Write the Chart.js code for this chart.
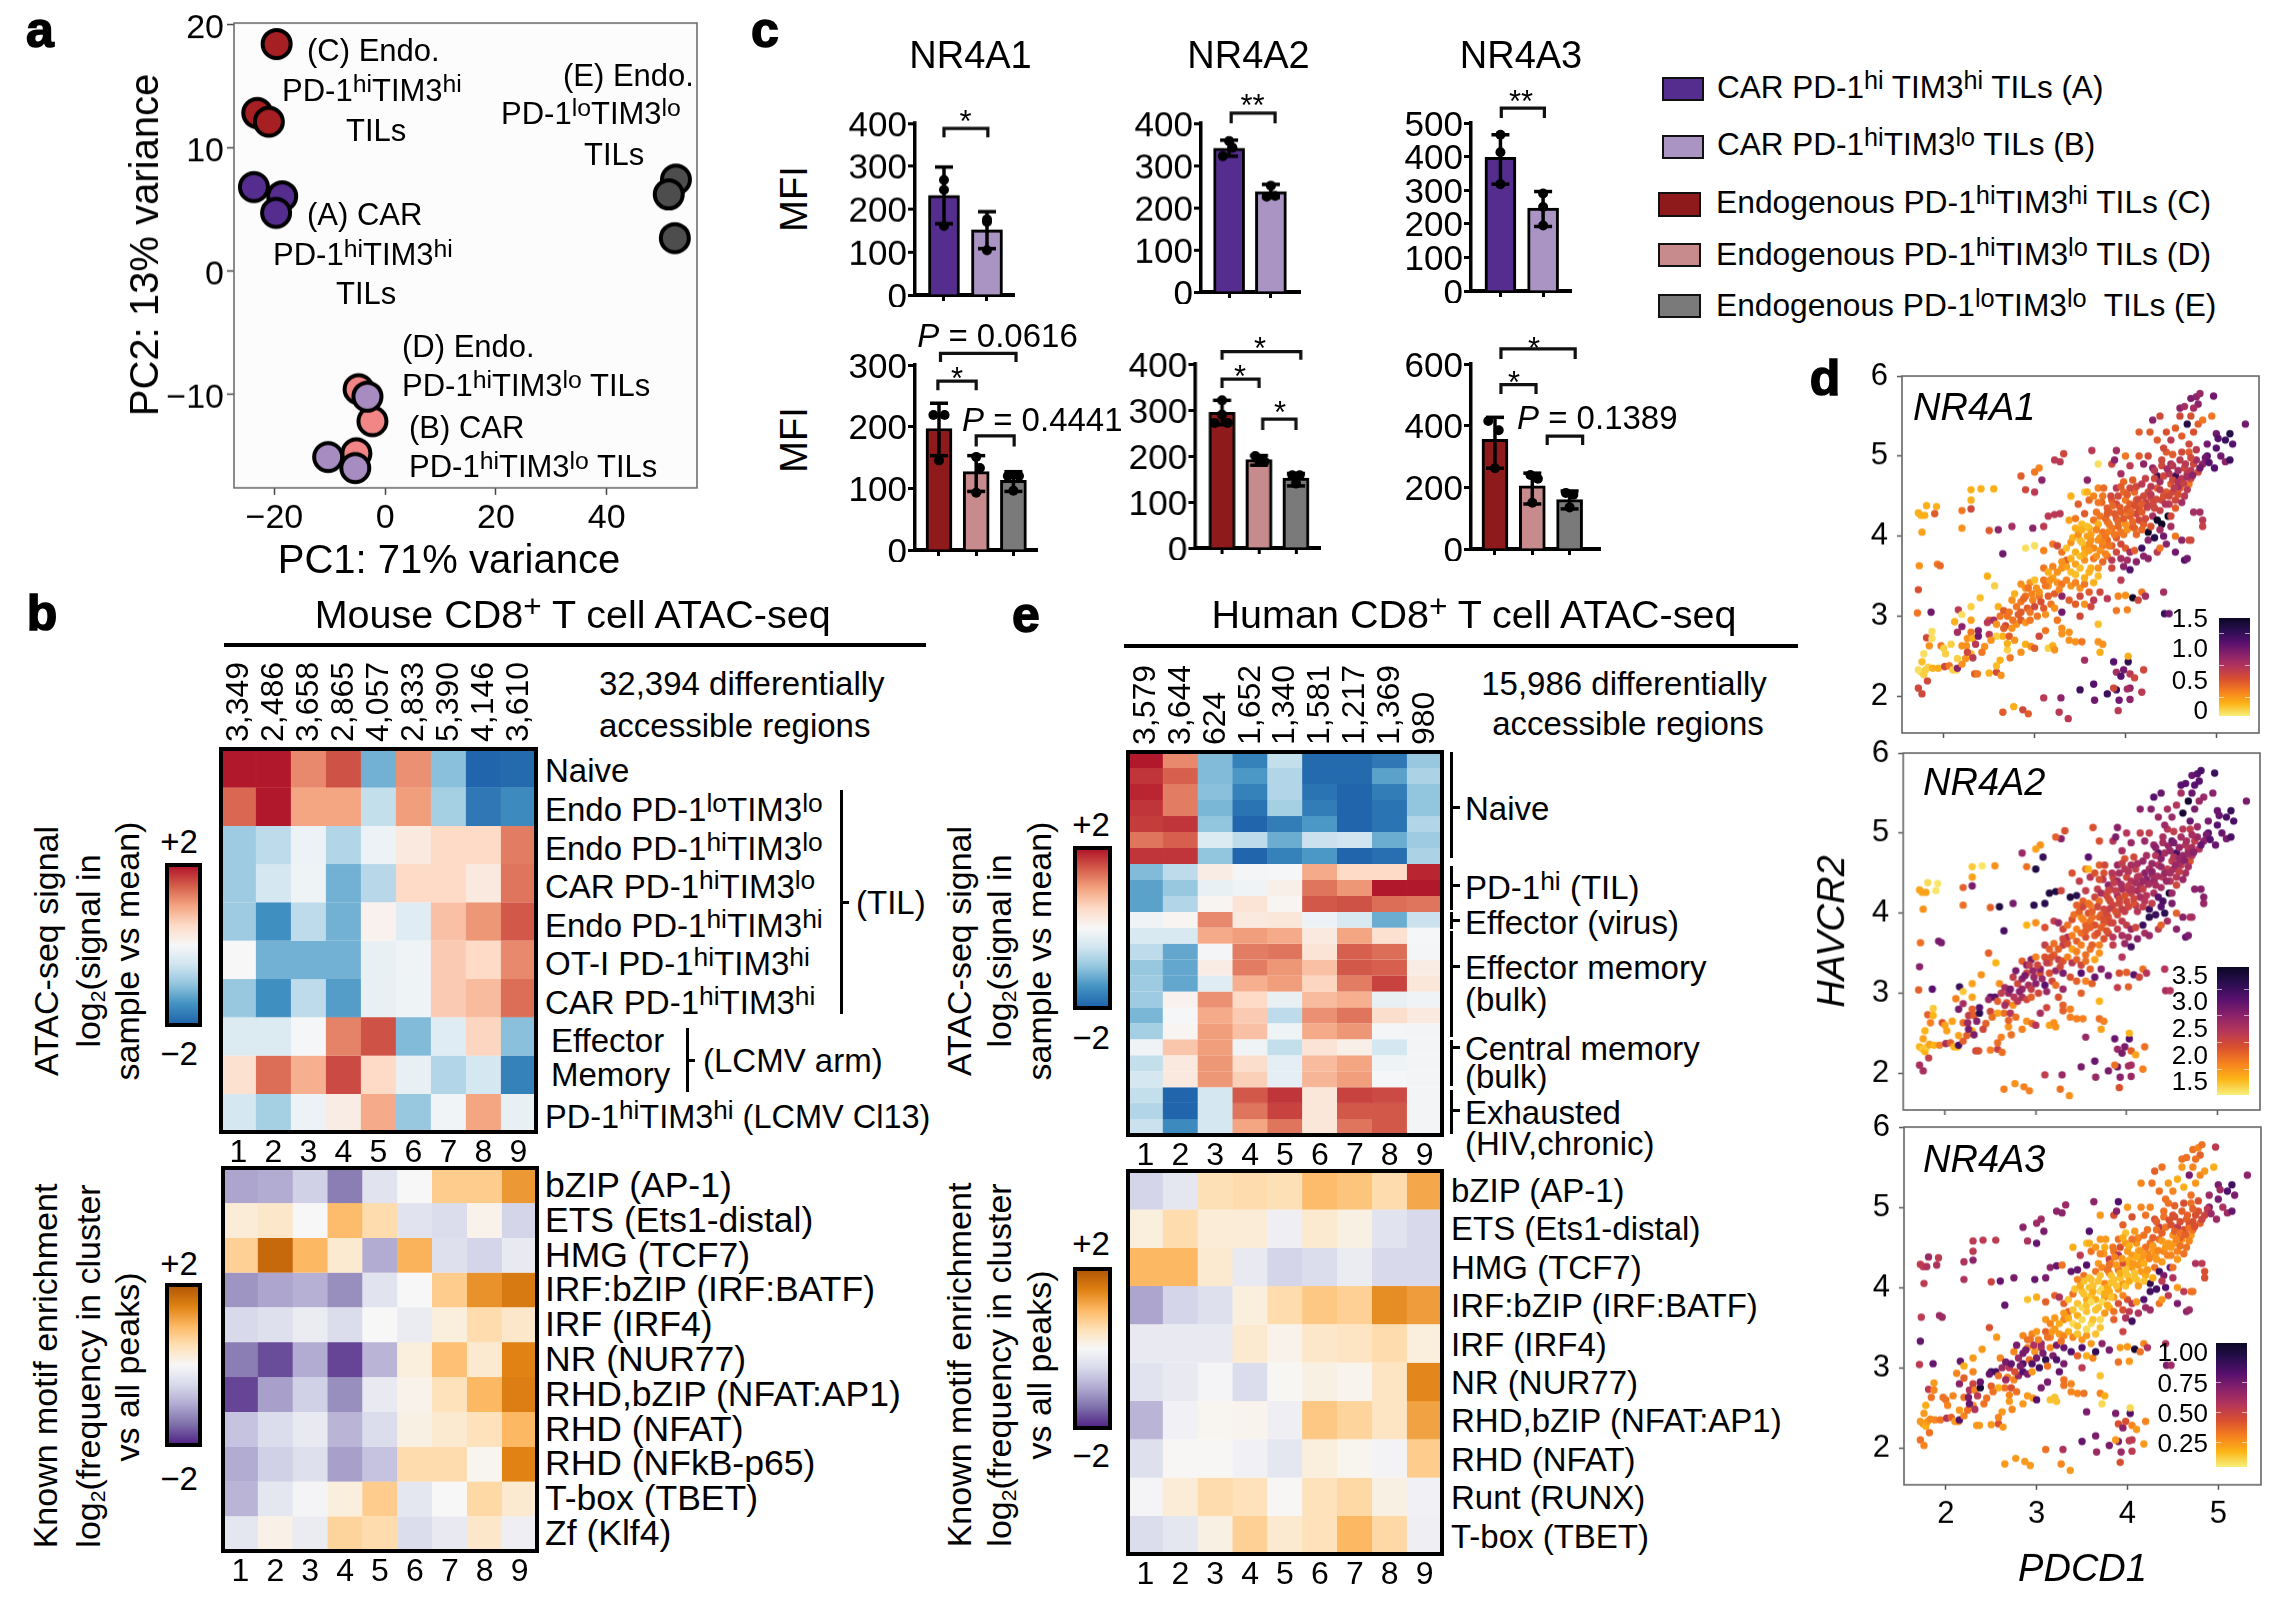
<!DOCTYPE html>
<html><head><meta charset="utf-8">
<script src="https://cdn.jsdelivr.net/npm/chart.js@4"></script>
<style>
html,body{margin:0;padding:0;background:#fff}
#page{position:relative;width:2285px;height:1597px;overflow:hidden;background:#fff;font-family:"Liberation Sans",Arial,sans-serif;color:#000}
canvas{position:absolute}
.t{position:absolute;white-space:nowrap;line-height:1}
.t sup{font-size:.8em;line-height:0;vertical-align:baseline;position:relative;top:-.34em}
.t sub{font-size:.62em;line-height:0;vertical-align:baseline;position:relative;top:.25em}
.b{position:absolute;box-sizing:border-box}
</style></head><body><div id="page"></div>
<script>
// ---------- panel a ----------
const pcaXTicks=[-20,0,20,40], pcaYTicks=[-10,0,10,20];
const pc1B=[-3.2,-10.3,-5.4], pc2B=[-10.2,-15.1,-16.0];
const pc1D=[-4.8,-2.3,-5.2], pc2D=[-9.6,-12.2,-14.8];
const pc1A=[-23.7,-18.6,-19.7], pc2A=[6.8,6.05,4.7];
const pc1C=[-19.6,-23.1,-21.0], pc2C=[18.4,12.8,12.1];
const pc1E=[52.5,51.2,52.3], pc2E=[7.4,6.2,2.66];
// ---------- panel c ----------
const a1TMean=[232,152], a1THi=[298,194], a1TLo=[166,108], a1TDotX=[0,0,0,1,1,1], a1TDotY=[268,161,245,176,104,170];
const a2TMean=[341,238], a2THi=[360,255], a2TLo=[322,224], a2TDotX=[0,-.15,.08,1,.9,1.1], a2TDotY=[358,322,342,252,226,228];
const a3TMean=[398,247], a3THi=[465,296], a3TLo=[318,192], a3TDotX=[0,0,0,1,1,1], a3TDotY=[465,413,318,290,250,195];
const a1BMean=[197,127,113], a1BHi=[238,153,127], a1BLo=[153,95,95], a1BDotX=[-.15,.15,0,1.1,1,1,1.85,2.15,2], a1BDotY=[219,219,145,133,93,151,120,120,96];
const a2BMean=[295,192,152], a2BHi=[321,201,162], a2BLo=[268,180,135], a2BDotX=[0,-.2,.15,0,.9,1,1.15,1.9,2.1,2], a2BDotY=[321,272,272,290,200,190,188,158,158,140];
const a3BMean=[356,205,160], a3BHi=[427,246,188], a3BLo=[262,146,130], a3BDotX=[-.18,.1,0,.95,1.15,1,1.9,2.1,2], a3BDotY=[415,385,262,240,228,150,182,176,135];
const yTicks400=[0,100,200,300,400], yTicks500=[0,100,200,300,400,500], yTicks300=[0,100,200,300], yTicks600=[0,200,400,600];
// ---------- panel b / e ----------
const colsB=[1,2,3,4,5,6,7,8,9];
const countsMouse=["3,349","2,486","3,658","2,865","4,057","2,833","5,390","4,146","3,610"];
const countsHuman=["3,579","3,644","624","1,652","1,340","1,581","1,217","1,369","980"];
const mouseAtac=[
[2,2,1.2,1.6,-1.2,1.15,-1.05,-2,-1.95],
[1.45,2,1.0,1.0,-.6,1.05,-.85,-1.8,-1.6],
[-.9,-.65,-.15,-.75,-.15,.25,.5,.5,1.3],
[-.9,-.45,-.12,-1.2,-.7,.5,.5,.25,1.35],
[-.9,-1.55,-.65,-1.2,.1,-.3,.75,1.1,1.55],
[0,-1.2,-1.2,-1.2,-.2,-.1,.65,.5,1.2],
[-.95,-1.55,-.65,-1.4,-.2,-.12,.65,.8,1.4],
[-.35,-.35,-.02,1.25,1.6,-1.1,-.3,.55,-1.05],
[.4,1.4,.9,1.65,.5,-.2,-.75,-.45,-1.7],
[-.45,-.85,-.15,.2,.95,-.95,-.08,1.0,-.2]];
const mouseMotif=[
[-1.05,-1,-.6,-1.4,-.35,0,.75,.75,1.3],
[.25,.35,0,.95,.55,-.35,-.45,.1,-.55],
[.7,1.8,1,.3,-1,1.05,-.4,-.55,-.25],
[-1.2,-1.05,-.95,-1.25,-.35,0,.75,1.35,1.6],
[-.5,-.4,-.2,-.45,0,-.2,.2,.55,.35],
[-1.4,-1.75,-1,-1.8,-.9,.2,.9,.3,1.5],
[-1.8,-1.1,-.6,-1.25,-.25,.1,.45,1,1.55],
[-.75,-.45,-.25,-.9,-.45,.15,.3,.45,1],
[-1,-.6,-.4,-1.1,-.75,.55,.55,.05,1.5],
[-.9,-.3,-.05,.2,.75,-.3,0,.6,.3],
[-.3,.12,-.2,.65,.55,-.45,-.25,.35,-.15]];
const humanAtac=[
[2,1.2,-1.1,-1.7,-.6,-1.95,-1.95,-1.8,-.95],
[1.8,1.5,-1.1,-1.45,-.75,-1.95,-1.95,-1.35,-.8],
[1.9,1.3,-1.05,-1.7,-.75,-1.85,-2,-1.75,-1],
[1.8,1.3,-1.15,-1.85,-.85,-1.75,-2,-1.85,-1],
[1.75,1.8,-1,-2,-1.75,-1.45,-2,-1.85,-.75],
[1.35,1.5,-.35,-.65,-1.25,-.55,-.5,-1.25,-.9],
[1.8,1.8,-1,-2,-1.7,-1.45,-2,-1.9,-.8],
[-1.1,-.65,.2,-.05,-.02,.95,.5,.5,1.9],
[-1.35,-.95,-.2,-.1,.15,1.35,1.1,2,2],
[-1.35,-.75,.05,.35,.05,1.55,1.6,1.4,1.35],
[-.1,.05,1.2,.25,.3,-.15,-.4,-1.25,-.55],
[-.4,-.4,.95,1.05,.95,.25,1,.4,-.02],
[-.65,-1.3,-.05,1.3,1.35,.35,1.5,1.4,-.05],
[-.95,-1.3,.2,1.3,1.1,.75,1.55,1.5,.2],
[-.9,-1.3,-.3,.9,1.05,.55,1.3,1.7,.3],
[-.9,.1,1.15,.5,-.2,.8,.9,-.2,-.1],
[-1.15,-.02,.95,.65,-.65,1.15,1.35,.45,.25],
[-.85,.05,1.05,.75,-.12,.95,1.1,-.05,-.07],
[-.1,.7,1.05,-.1,-.6,.35,.15,-.45,-.07],
[-.6,.25,1.1,.45,-.25,.8,1,-.12,-.07],
[-.45,.25,1.1,.6,-.25,.85,1.05,-.03,-.07],
[-.6,-2,-.45,1.55,1.8,.3,1.7,1.65,-.07],
[-.75,-2,-.45,1.35,1.7,.3,1.55,1.55,-.07],
[-.55,-1.6,-.45,1,1.35,.3,1.35,1.55,-.07]];
const humanMotif=[
[-.55,-.3,.5,.55,.5,.95,.85,.55,1.15],
[.2,.55,.25,.25,-.15,.3,.15,-.35,-.5],
[1,1,.3,-.25,-.55,-.45,-.2,-.5,-.5],
[-1.05,-.55,-.4,.2,.55,.8,.7,1.4,1.25],
[-.25,-.25,-.25,.3,.1,.35,.4,.55,.2],
[-.35,-.25,-.05,-.45,.03,.15,.08,.4,1.45],
[-.9,-.1,.05,.08,-.15,.8,.65,.4,1.2],
[-.4,.02,.02,-.1,-.3,.2,.07,-.07,.75],
[-.05,.25,.55,.45,.02,.45,.6,.15,-.1],
[-.45,-.3,.15,.7,.3,.45,1,.6,-.15]];
// ---------- panel d ----------
const pdcd1=[
1.72,1.75,1.78,1.80,1.83,1.88,1.94,2.01,1.76,1.72,
1.76,1.82,1.78,1.84,1.81,1.87,1.87,1.97,2.00,2.02,
2.06,2.10,2.14,2.15,2.20,2.15,2.24,2.08,2.12,2.15,
2.20,2.25,2.26,2.30,2.32,2.35,2.30,2.20,2.30,2.26,
2.32,2.34,2.37,2.16,2.20,2.30,2.40,2.38,2.38,1.71,
1.86,1.72,1.73,1.93,1.96,1.76,1.72,1.75,1.79,1.81,
1.92,1.90,2.20,2.20,2.30,2.30,2.30,2.41,2.55,2.48,
2.56,2.50,2.58,2.63,2.62,2.58,2.70,2.70,2.65,2.58,
2.50,2.50,2.48,2.55,2.58,2.60,2.68,2.75,2.70,2.72,
2.78,2.80,2.85,2.90,2.95,2.90,2.96,3.00,3.05,2.85,
2.73,3.15,3.20,3.22,3.25,3.30,3.30,3.38,3.38,3.45,
3.52,3.70,3.70,3.75,3.72,3.50,3.55,3.87,3.90,3.95,
3.98,4.03,4.03,4.05,4.10,4.20,4.18,4.05,3.90,3.87,
4.02,3.80,3.66,3.50,3.65,3.29,3.10,2.65,2.77,2.87,
2.93,3.27,3.37,3.92,3.93,4.05,2.75,2.78,2.80,2.85,
2.90,2.92,2.95,2.98,3.00,3.03,3.05,3.10,3.12,3.15,
3.18,3.22,3.30,3.30,3.38,3.45,3.50,3.55,3.62,3.65,
3.72,3.80,3.90,3.92,4.00,4.02,4.08,4.14,4.18,4.22,
4.42,4.43,4.48,2.85,2.90,2.95,3.00,3.05,3.10,3.15,
3.20,3.25,3.30,3.35,3.40,3.45,3.50,3.55,3.60,3.65,
3.70,3.85,3.95,3.10,3.15,3.20,3.30,3.35,3.40,3.45,
3.50,3.55,3.60,3.65,3.70,3.75,3.80,3.85,3.90,3.95,
4.00,4.05,4.10,2.65,2.90,3.00,3.10,3.20,3.25,3.30,
3.35,3.40,3.45,3.50,3.55,3.60,3.65,3.70,3.75,3.80,
3.85,3.90,3.95,4.20,4.25,4.35,4.38,4.45,4.55,4.62,
4.65,4.68,4.70,4.72,4.55,2.50,2.60,2.75,2.98,3.10,
3.15,3.22,3.28,3.38,3.45,3.52,3.55,3.60,3.65,3.70,
3.75,3.80,3.85,3.90,3.95,4.00,4.05,4.10,4.15,4.20,
4.25,4.30,4.35,4.40,4.47,4.50,4.30,4.75,4.82,4.85,
4.85,3.40,3.48,3.55,3.60,3.65,3.70,3.75,3.80,3.85,
3.90,3.95,4.00,4.05,4.10,4.15,4.20,4.25,4.30,4.35,
4.40,4.45,4.50,4.55,4.60,4.65,4.70,4.55,2.85,3.05,
3.08,3.00,3.00,2.90,3.28,3.22,3.32,3.58,3.58,3.63,
3.70,3.85,3.90,3.88,3.95,4.00,4.05,4.15,4.20,4.25,
4.30,4.35,4.40,4.45,4.50,4.55,4.60,4.65,4.70,4.75,
4.80,4.85,4.15,4.27,4.30,4.35,4.38,4.45,4.50,4.55,
4.60,4.62,4.70,4.75,4.80,4.85,4.95,5.00,4.90,5.00,
5.02,5.10,5.15,5.18,5.05,5.10,4.98,5.15,5.32,4.90,
4.60,4.65,4.72,4.78,4.82,4.80,4.75,4.97,4.72,4.68,
3.42,3.48,3.52,3.58,3.62,3.68,3.72,3.78,3.82,3.88,
3.92,3.98,4.02,4.08,4.12,4.18,3.68,3.72,3.78,3.82,
3.88,3.92,3.98,4.02,4.08,4.12,4.18,4.22,4.28,4.32,
4.38,4.42,4.48,4.52,4.58,4.62,4.68,4.72,4.12,4.18,
4.22,4.28,4.32,4.38,4.42,4.48,4.52,4.58,4.62,4.68,
4.72,4.78,4.82,4.88,4.92,4.72,4.78,4.62,4.52,4.42,
3.50,3.55,3.60,3.40,3.35,3.30,3.25,3.45,3.55,3.62,
3.72,3.78,3.82,3.62,3.68,3.75,3.52,3.58,3.45,3.82,
3.92,3.98,4.05,4.12,4.22,4.28,3.98,4.08,3.90,3.95,
2.85,2.88,2.93,2.97,3.02,3.07,3.12,3.17,3.22,3.27,
2.62,2.66,2.72,2.76,2.82,2.45,2.52,2.42,2.66,3.12,
3.98,4.02,4.05,4.12,4.18,4.25,4.32,4.38,4.42,4.50,
4.02,4.06,4.10,4.14,4.18,4.24,4.28,4.34,4.38,4.44,
4.48,4.54,4.58,4.64,4.68,4.74,4.32,4.40,4.46,4.52,
4.58,4.66,3.74,3.80,3.86,3.94,4.02,3.84,3.76,3.70];
const havcr2=[
2.33,2.30,2.27,2.33,2.36,2.35,2.35,2.37,2.43,2.10,
2.03,2.19,2.53,2.63,2.73,2.81,2.72,2.63,2.60,2.53,
2.38,2.33,2.33,2.35,2.40,2.47,2.47,2.65,2.93,2.80,
2.63,2.63,2.72,2.80,2.72,2.65,2.95,2.87,2.53,2.55,
2.48,2.28,2.28,3.08,3.02,3.12,3.23,2.75,2.82,3.04,
3.05,3.33,3.63,3.65,3.63,4.05,4.29,4.26,4.26,4.38,
4.37,4.28,4.32,4.10,4.34,4.45,4.58,4.59,4.59,3.50,
3.38,2.29,2.30,2.26,2.45,2.38,2.58,2.66,2.75,2.75,
2.77,2.95,2.92,2.95,2.90,3.12,2.88,2.85,3.00,2.75,
2.70,2.90,2.95,2.92,2.95,2.65,2.62,2.60,2.75,2.55,
2.48,2.60,2.63,2.58,2.95,2.85,2.78,2.80,2.70,2.68,
2.68,2.90,2.68,2.65,2.55,3.00,2.45,2.43,2.30,2.25,
2.33,2.43,2.50,2.28,2.23,2.33,2.05,2.10,2.08,2.10,
2.09,2.03,1.95,2.08,2.15,1.98,1.98,1.80,1.87,1.83,
1.78,1.80,1.72,1.82,1.95,1.96,3.20,3.28,3.12,3.18,
3.25,3.10,3.05,3.20,3.12,3.00,3.25,3.10,3.02,3.25,
3.15,3.10,3.25,3.05,3.20,3.15,3.25,3.15,3.12,3.20,
3.30,3.22,3.07,3.25,3.26,3.08,3.23,3.20,3.30,3.25,
3.30,3.03,3.03,3.40,3.35,3.42,3.45,3.30,3.45,3.38,
3.48,3.42,3.40,3.45,3.38,3.42,3.35,3.40,3.30,3.42,
3.50,3.60,3.45,3.60,3.55,3.62,3.60,3.70,3.55,3.65,
3.60,3.70,3.55,3.72,3.60,3.68,3.75,3.70,3.80,3.72,
3.85,3.80,3.82,3.78,3.85,3.88,3.82,3.90,3.88,3.80,
3.85,3.92,3.80,3.95,3.85,3.90,3.85,3.95,3.88,3.95,
3.88,3.98,3.90,3.75,3.72,3.80,3.85,3.90,4.00,3.95,
3.70,3.72,3.95,3.95,3.80,4.07,4.08,4.12,4.10,4.12,
4.25,4.27,4.28,4.20,4.22,4.15,4.28,4.10,4.20,4.15,
4.05,4.18,4.10,4.22,4.05,4.15,4.25,4.10,4.20,4.15,
4.05,4.25,4.20,4.15,4.25,4.25,4.40,4.30,4.30,4.20,
4.12,4.50,4.40,4.55,4.45,4.50,4.60,4.50,4.35,4.45,
4.40,4.30,4.45,4.40,4.55,4.35,4.50,4.55,4.40,4.60,
4.45,4.55,4.65,4.45,4.60,4.50,4.65,4.35,4.75,4.85,
4.70,4.80,4.55,4.58,4.93,4.95,5.03,4.70,4.55,5.07,
4.90,4.90,5.07,4.95,4.78,5.00,4.88,5.00,4.90,5.00,
4.85,4.75,4.95,5.05,4.90,4.75,4.95,4.85,5.05,4.90,
4.80,4.90,5.30,5.30,5.45,5.20,5.50,5.30,5.20,5.35,
5.50,5.25,5.15,5.30,5.40,5.45,5.50,5.28,5.15,5.10,
5.22,5.20,5.28,5.15,5.00,4.93,4.85,4.95,5.40,5.00,
5.60,5.62,5.72,5.74,5.78,5.65,5.60,5.75,5.50,5.40,
3.98,4.02,3.92,4.00,3.95,4.08,3.98,4.00,4.06,4.02,
4.12,4.02,4.08,4.12,4.02,4.08,4.30,4.25,4.22,4.30,
4.28,4.18,4.22,4.30,4.18,4.28,4.30,4.22,4.12,4.35,
4.32,4.50,4.40,4.55,4.52,4.42,4.58,4.72,4.62,4.65,
4.72,4.62,4.72,4.68,4.75,4.78,4.70,4.62,4.72,4.78,
4.82,4.95,4.85,4.98,4.92,4.98,5.08,5.05,5.02,5.10,
3.75,3.78,3.82,3.72,3.62,3.68,3.55,3.52,3.48,3.60,
3.82,3.78,3.88,4.02,3.75,3.92,4.08,4.12,4.10,4.15,
4.50,4.55,4.60,4.45,4.42,4.48,4.68,4.70,4.60,4.62,
3.05,3.22,3.35,3.28,3.35,3.18,3.38,3.45,3.28,3.33,
3.00,3.07,3.05,2.95,3.02,2.62,2.70,2.55,2.85,2.82,
3.62,3.70,3.58,3.68,3.85,3.95,3.98,4.08,4.00,4.12,
4.34,4.30,4.38,4.46,4.40,4.36,4.52,4.46,4.58,4.40,
4.50,4.60,4.68,4.66,4.74,4.76,4.82,4.88,4.84,4.88,
4.82,4.90,4.42,4.28,4.38,4.36,4.52,4.50,4.60,4.42];
const exprNR4A1=[
.05,.05,.1,.1,.1,.2,.2,.6,.15,.6,
.6,.6,.05,.3,.6,.05,.05,.4,.1,.1,
.4,.1,.1,.9,.3,.1,.3,.1,.2,.8,
.3,.3,.3,.4,.2,.7,.25,.9,.15,.6,
.7,.5,.4,.7,.05,.1,.15,1,.95,.4,
1,.55,.3,.4,.45,.25,.2,.2,.2,.2,
.2,.5,.4,.3,.6,.2,.2,.2,.2,.2,
.1,.2,.6,.3,.2,.15,.1,.2,.2,.1,
.7,.5,.7,.8,.3,.2,.6,.3,.4,.5,
.3,.3,.5,.3,.4,.2,.3,.5,.6,.3,
.4,.1,.2,.3,.4,.3,.3,.3,.3,.3,
.4,.15,.3,.3,.2,.6,.8,1.1,.8,1.1,
1,1.25,.2,.7,.6,.6,.7,.9,1.2,.6,
.8,1.2,1,1.2,1.1,.9,.7,.5,.2,.6,
.5,.7,.7,.7,1,.9,.3,.2,.4,.4,
.4,.5,.4,.35,.6,.4,.4,.5,.3,.5,
.4,.3,.9,1,.5,.5,.6,.3,.6,.7,
.6,.7,.4,.35,.3,.35,1.6,.6,.4,.8,
.8,1.2,1,.3,.3,.3,.15,.3,.4,.3,
.25,.3,.4,.35,.3,.35,.3,.4,.5,.2,
.15,.6,.7,.4,.2,.35,.3,.5,.15,.25,
.15,.3,.2,.4,.3,.45,.4,.7,.6,.8,
.5,.8,.5,1,.05,.05,.35,.4,.6,.4,
.15,.3,.2,.15,.25,.3,.35,.3,.4,.45,
.5,.5,.6,.9,.9,.7,.4,.9,.4,.9,
1.1,1,.55,.6,1,.5,.9,.8,.9,.7,
.7,.7,.7,.25,.4,.15,.5,.2,.4,.2,
.4,.4,.4,.5,.4,.3,.5,.45,.6,.5,
1.6,.8,1.6,1.6,1.6,.6,.7,.8,.8,.7,
.65,.2,.5,.1,.45,.35,.35,.4,.5,.5,
.6,.5,.4,.5,.45,.55,.6,.6,.6,.5,
.6,.5,.5,.6,.5,.7,.4,.5,.5,.35,
.9,.4,.7,.6,.7,.7,.6,.9,.2,.7,
.05,.6,.8,.9,.8,.4,.7,.5,.9,.6,
.9,1.2,.6,.5,.8,1.2,.7,.6,.5,.6,
.6,.9,.5,.5,.9,.5,.6,.55,.7,.5,
.6,.5,.6,.55,.5,.4,.4,1,1,1.1,
1.1,1.2,1.3,1.1,1,.9,1.1,1.2,1,1.1,
.9,.8,.95,.9,.85,.9,.8,1,.55,1.3,
.2,.3,.15,.25,.3,.35,.3,.4,.35,.4,
.45,.4,.3,.5,.45,.45,.4,.4,.45,.5,
.5,.45,.5,.4,.45,.6,.5,.6,.55,.6,
.65,.55,.7,.6,.55,.8,.7,.6,.6,.7,
.65,.7,.6,.8,.6,.7,.6,.8,.7,.7,
.7,.8,1,1,1.1,.6,.7,.6,.5,.6,
.15,.2,.25,.2,.25,.3,.3,.15,.2,.2,
.3,.35,.4,.25,.3,.35,.2,.15,.2,.4,
.6,.45,.6,.5,.65,.6,.45,.5,.7,.5,
.5,.45,.4,.35,.3,.55,.4,.3,.5,.35,
.4,.5,.4,.4,.5,.3,.3,.4,.5,.4,
.9,.8,1.1,.9,1.2,.9,1.3,.8,1,.8,
.5,.45,.55,.6,.5,.65,.7,.6,.7,.75,
.6,.7,.75,.65,.8,.9,.7,.6,.8,.7,
.8,.7,.45,.5,.45,.5,.5,.6,.45,.4];
const exprNR4A2=[
1.5,1.4,1.5,1.4,1.6,1.5,1.8,2.5,1.6,2.5,
2.5,2.3,1.5,1.8,2,1.4,1.5,2.1,1.6,1.6,
2,1.5,1.5,3.1,2,1.6,2,1.6,1.8,2.8,
1.9,2.6,2.3,2,2,2.7,1.6,2.5,1.5,2.8,
2.8,2.2,2.1,3.2,1.4,1.6,1.7,3.3,3,2,
3,2.7,1.9,2.8,2.8,1.7,1.6,1.6,1.6,1.3,
1.25,1.25,2,1.9,2.8,1.6,1.4,1.25,1.7,2,
1.5,1.8,2.3,1.9,1.8,1.9,1.7,2,1.9,1.6,
2.2,3,2.6,3,2,1.7,2.1,1.7,2.6,2.4,
1.9,2.4,2.5,2.2,2,1.7,1.9,2.4,2.5,1.8,
1.9,1.6,1.7,1.7,2.1,2,2,1.8,1.8,1.8,
1.8,1.5,1.9,1.8,1.6,2,2.6,2.9,2.6,2.8,
2.8,3,1.5,2,1.6,1.9,1.8,2.5,2.9,1.9,
2.5,2.8,2.6,2.8,2.9,2.6,2.3,1.8,1.7,1.8,
1.8,1.9,1.7,2.1,2.7,2.6,2.3,2.8,2.2,2.7,
2.2,2.5,2.3,2.6,2.7,2.2,2.1,3,2.6,2.1,
2.2,1.9,2.8,2.6,2.1,2,3,1.8,2,2.9,
2.7,2.8,2.3,2.1,2,2,3,2.2,1.9,2.4,
2.4,2.5,2.4,2,2.7,2.8,1.8,2.7,2.1,2,
2,2.3,2.1,1.8,2.4,2,2.2,1.9,2,1.6,
1.7,2.3,2.4,2.3,2,1.9,2.3,2.5,1.6,2,
1.8,2.1,1.9,2,1.8,2.1,2.2,2.4,2.3,2.5,
2.3,2.6,2.2,3.1,1.5,1.7,2.1,2.3,2.6,2.2,
1.9,2.1,1.8,1.7,2,1.9,2.1,2,2,2.1,
2.2,2.2,2.3,2.5,2.6,2.3,2,2.5,2,2.7,
2.9,2.8,2.4,2.5,2.7,2,3.4,2.8,3.3,3.3,
3.4,3.4,2.2,3.4,3.3,2,2.3,1.8,2.2,1.9,
2.2,2,2.2,2.5,2.3,2.2,2.3,2.4,2.5,2.4,
3.2,2.5,3,3.1,3.5,2.6,2.5,2.7,2.7,2.7,
2.6,2.1,2.3,1.9,2.4,2.1,2,2.1,2.7,2.2,
2.6,2.5,2.2,2.4,2.3,2.5,2.7,2.5,2.6,2.4,
2.4,2.3,2.3,2.4,2.3,2.5,2.1,2.2,2.6,1.7,
3.2,1.6,3.4,1.9,2.7,2,2.1,3,1.5,2.1,
2.1,2.4,2.7,2.8,2.5,2.4,2.6,2.3,2.6,2.3,
2.6,3.1,2.5,2.4,2.9,3.1,2.5,2.4,2.3,2.3,
2.4,2.7,2.7,2.7,3,2.6,2.9,2.5,2.6,2.4,
2.5,3.5,2.9,2.8,2.6,2.6,2.7,2.9,2.8,3,
2.9,3.1,3.2,3.1,2.9,2.8,2.9,3.1,2.8,3,
3,3,2.9,3,3.1,3,3,3.2,2.9,3.5,
1.9,2,1.8,2.1,1.9,2.2,2,2.2,2.3,2.1,
2.2,2.3,2.2,2.1,2.4,2.3,2.3,2.5,2.2,2.4,
2.3,2.2,2.1,2.4,2.2,2.5,2.3,2.4,2.3,2.5,
2.5,2.6,2.4,2.5,2.3,2.6,2.5,2.4,2.5,2.6,
2.5,2.6,2.4,2.7,2.5,2.6,2.4,2.5,2.6,2.4,
2.5,2.6,2.9,2.8,3,2.5,2.6,2.4,2.3,2.6,
1.9,2,2,1.8,2.1,2.2,2,1.8,1.9,2,
2,2.1,2.2,2,2.1,2.1,2.2,1.9,2,2.2,
2.5,2.4,2.5,2.4,2.7,2.5,2.1,2.2,2.6,2.3,
2.6,2.8,2.3,2.6,2.2,2.6,2.3,2.1,2.6,2.2,
2.3,2.5,2.8,2.4,2.7,2,1.9,2.2,2.5,2.2,
2.6,2.5,3.1,2.7,3.2,3.3,3.2,3,3.3,2.8,
2.3,2.4,2.5,2.4,2.6,2.5,2.7,2.5,2.6,2.6,
2.5,2.6,2.6,2.7,2.6,2.7,2.7,2.5,2.6,2.8,
2.6,2.5,2.4,2.2,2.3,2.5,2.4,2.4,2.2,2.1];
const exprNR4A3=[
.2,.2,.15,.2,.25,.25,.3,.55,.2,.3,
.25,.3,.15,.3,.5,.2,.25,.3,.3,.25,
.35,.2,.25,.8,.25,.2,.3,.25,.25,.65,
.3,.7,.55,.45,.25,.5,.25,.35,.2,.75,
.55,.2,.2,.75,.15,.2,.2,1,.75,.5,
.75,.75,.5,.6,.6,.5,.5,.5,.55,.6,
.5,.55,.55,.55,.65,.5,.5,.5,.5,.4,
.2,.2,.4,.2,.2,.25,.2,.25,.3,.15,
.35,.85,.75,.85,.3,.25,.25,.25,.5,.4,
.3,.6,.8,.7,.2,.2,.2,.8,.7,.2,
.25,.1,.1,.1,.75,.3,.3,.25,.25,.25,
.3,.1,.25,.15,.05,.5,.7,.7,.4,.65,
.4,.8,.05,.25,.2,.25,.2,.5,.7,.2,
.5,.7,.6,.75,.7,.55,.3,.2,.2,.2,
.2,.25,.2,.4,.6,.5,.25,.7,.6,.7,
.25,.3,.8,.2,.7,.85,.55,.9,.3,.25,
.7,.8,.75,.7,.8,.35,.8,.15,.25,.9,
.65,.7,.3,.2,.2,.2,1,.3,.25,.55,
.55,.7,.6,.25,.3,.25,.2,.6,.35,.25,
.2,.2,.25,.15,.25,.1,.2,.2,.2,.1,
.1,.35,.45,.2,.25,.2,.25,.35,.05,.15,
.05,.1,.05,.1,.05,.2,.15,.3,.4,.4,
.4,.5,.2,.75,.1,.15,.35,.35,.55,.35,
.1,.3,.1,.1,.15,.1,.15,.05,.2,.15,
.2,.2,.25,.6,.6,.3,.2,.5,.2,.5,
.65,.6,.3,.3,.7,.45,.75,.7,.75,.7,
.65,.75,.3,.75,.75,.3,.8,.1,.3,.1,
.25,.25,.1,.3,.2,.1,.2,.1,.2,.15,
.9,.3,.85,.7,.75,.3,.2,.55,.5,.4,
.4,.15,.5,.1,.3,.2,.2,.15,.5,.3,
.55,.4,.2,.2,.2,.2,.3,.3,.2,.3,
.25,.2,.2,.25,.2,.3,.2,.2,.65,.6,
.7,.6,.75,.55,.65,.65,.6,.8,.15,.65,
.2,.4,.8,.65,.35,.2,.4,.25,.3,.25,
.4,.5,.3,.3,.4,.5,.35,.35,.3,.4,
.35,.45,.25,.3,.35,.3,.3,.2,.25,.15,
.2,.15,.3,.2,.25,.2,.15,.7,.6,.7,
.6,.8,.85,.7,.55,.6,.6,.75,.65,.7,
.3,.3,.3,.25,.3,.35,.3,.5,.25,.7,
.1,.15,.1,.1,.15,.1,.05,.15,.1,.1,
.1,.1,.15,.1,.2,.1,.2,.25,.3,.25,
.2,.15,.1,.15,.1,.2,.15,.2,.15,.2,
.2,.2,.25,.2,.3,.3,.25,.3,.25,.3,
.3,.35,.3,.35,.3,.4,.35,.35,.4,.4,
.4,.4,.45,.5,.6,.35,.4,.4,.35,.3,
.05,.1,.05,.1,.15,.2,.15,.1,.05,.1,
.05,.15,.1,.1,.1,.15,.1,.1,.25,.1,
.4,.2,.3,.15,.25,.2,.1,.2,.3,.15,
.8,.7,.3,.55,.25,.7,.3,.2,.7,.3,
.6,.7,.75,.4,.7,.3,.3,.3,.6,.7,
.55,.5,.85,.55,.8,.85,.85,.5,.8,.55,
.15,.2,.15,.2,.2,.25,.2,.25,.2,.25,
.2,.25,.3,.35,.3,.4,.35,.3,.4,.4,
.4,.35,.2,.3,.25,.2,.15,.3,.2,.25];
const dXTicks=[2,3,4,5], dYTicks=[2,3,4,5,6];

// ---------- helpers ----------
const page=document.getElementById('page');
const FONT='"Liberation Sans",Arial,sans-serif';
Chart.defaults.font.family=FONT; Chart.defaults.color='#000'; Chart.defaults.devicePixelRatio=1;
const framePlugin={id:'frame',afterDraw(c,a,o){if(!o.width)return;const r=c.chartArea,g=c.ctx;g.save();g.strokeStyle=o.color;g.lineWidth=o.width;g.strokeRect(r.left,r.top,r.right-r.left,r.bottom-r.top);g.restore();}};
function T(x,y,html,size,o={}){const d=document.createElement('div');d.className='t';d.innerHTML=html;
 const ax=o.a==='c'?'-50%':o.a==='r'?'-100%':'0';
 d.style.cssText=`left:${x}px;top:${y}px;font-size:${size}px;transform:translate(${ax},-50%)${o.rot?' rotate(-90deg)':''};${o.b?'font-weight:bold;-webkit-text-stroke:1.5px #000;':''}${o.i?'font-style:italic;':''}`;
 page.appendChild(d);return d;}
const Rot=(x,y,html,size)=>T(x,y,html,size,{a:'c',rot:1});
const Star=(x,y,s)=>T(x,y+8,s,31,{a:'c'});
function Box(l,t,r,b,css){const d=document.createElement('div');d.className='b';d.style.cssText=`left:${l}px;top:${t}px;width:${r-l}px;height:${b-t}px;${css}`;page.appendChild(d);return d;}
function mkCanvas(l,t,w,h){const c=document.createElement('canvas');c.width=w;c.height=h;c.style.cssText=`left:${l}px;top:${t}px;width:${w}px;height:${h}px`;page.appendChild(c);return c;}
function lerpPal(p,t){t=Math.max(0,Math.min(1,t))*(p.length-1);const i=Math.min(p.length-2,Math.floor(t)),f=t-i;const h=s=>[1,3,5].map(k=>parseInt(s.substr(k,2),16));const a=h(p[i]),b=h(p[i+1]);return `rgb(${a.map((v,k)=>Math.round(v+(b[k]-v)*f)).join(',')})`;}
const RDBU=['#2166ac','#4393c3','#92c5de','#d1e5f0','#f7f7f7','#fddbc7','#f4a582','#d6604d','#b2182b'];
const PUOR=['#542788','#8073ac','#b2abd2','#d8daeb','#f7f7f7','#fee0b6','#fdb863','#e08214','#b35806'];
const INFERNO=['#f6f07a','#fcb417','#f6801f','#d9502f','#b5365a','#8a226a','#57106e','#2a0e4f','#0b0724'];
function place(L,T_,R,B,m,cfg){ // plot box in page pixels, margins around it
 const c=mkCanvas(L-m.l,T_-m.t,R-L+m.l+m.r,B-T_+m.t+m.b);
 cfg.options=cfg.options||{};
 Object.assign(cfg.options,{responsive:false,animation:false,events:[],layout:{autoPadding:false,padding:{left:0,top:m.t,right:m.r,bottom:0}}});
 cfg.options.plugins=Object.assign({legend:{display:false},tooltip:{enabled:false}},cfg.options.plugins||{});
 cfg.options.scales.x.afterFit=s=>{s.height=m.b;s.paddingLeft=0;s.paddingRight=0;};
 cfg.options.scales.y.afterFit=s=>{s.width=m.l;s.paddingTop=0;s.paddingBottom=0;};
 cfg.plugins=[framePlugin];
 return new Chart(c,cfg);
}
const minus=v=>String(v).replace('-','−');
function setTicks(vals){return s=>{s.ticks=vals.map(v=>({value:v}));};}

// ---------- panel letters ----------
T(40,30,'a',50,{a:'c',b:1}); T(765,30,'c',50,{a:'c',b:1}); T(42,613,'b',50,{a:'c',b:1}); T(1026,615,'e',50,{a:'c',b:1}); T(1825,378,'d',50,{a:'c',b:1});

// ---------- panel a ----------
(function(){
 const ds=(xs,ys,col)=>({data:xs.map((x,i)=>({x,y:ys[i]})),pointRadius:14,pointBorderWidth:4,pointBorderColor:'#000',pointBackgroundColor:col,clip:false});
 const tkX={font:{size:34},padding:3,autoSkip:false,maxRotation:0,callback:v=>minus(v)};
 const tkY={font:{size:34},padding:3,autoSkip:false,labelOffset:4,callback:v=>minus(v)};
 const grid={display:true,drawOnChartArea:false,drawTicks:true,tickLength:7,tickWidth:1.5,tickColor:'#444',color:'#444'};
 Box(233.6,23.3,697.5,488,'background:#fcfcfc');
 place(233.6,23.3,697.5,488,{l:114,t:22,r:8,b:96},{type:'scatter',
  data:{datasets:[ds(pc1B,pc2B,'#a68cc0'),ds(pc1D,pc2D,'#f28585'),ds(pc1A,pc2A,'#552d8e'),ds(pc1C,pc2C,'#a51f23'),ds(pc1E,pc2E,'#4d4d4d')]},
  options:{plugins:{frame:{color:'#666',width:1.5}},scales:{
   x:{type:'linear',min:-27.3,max:56.3,afterBuildTicks:setTicks(pcaXTicks),ticks:tkX,grid,border:{display:false}},
   y:{type:'linear',min:-17.6,max:20.1,afterBuildTicks:setTicks(pcaYTicks),ticks:tkY,grid,border:{display:false}}
  }}});
 T(449,559,'PC1: 71% variance',40,{a:'c'});
 Rot(143.6,245,'PC2: 13% variance',40);
 const F=31, HH='PD-1<sup>hi</sup>TIM3<sup>hi</sup>', HL='PD-1<sup>hi</sup>TIM3<sup>lo</sup> TILs';
 T(307,50,'(C) Endo.',F);T(282,89.5,HH,F);T(346,130,'TILs',F);
 T(563,75,'(E) Endo.',F);T(501,113,'PD-1<sup>lo</sup>TIM3<sup>lo</sup>',F);T(584,154,'TILs',F);
 T(307,214,'(A) CAR',F);T(273,254,HH,F);T(336,293,'TILs',F);
 T(402,346,'(D) Endo.',F);T(402,385,HL,F);
 T(409,427,'(B) CAR',F);T(409,466,HL,F);
})();

// ---------- panel c ----------
function barPanel(box,xr,thick,mean,hi,lo,dx,dy,colors,yT,yMax,brackets,ml){
 const ds=[];
 ds.push({type:'bar',data:mean.map((v,i)=>({x:i,y:v})),backgroundColor:colors,borderColor:'#000',borderWidth:3,barThickness:thick,order:5});
 mean.forEach((v,i)=>ds.push({type:'line',data:[{x:i,y:lo[i]},{x:i,y:hi[i]}],borderColor:'#000',borderWidth:3.5,pointStyle:'line',pointRadius:9,pointBorderWidth:3.5,pointBorderColor:'#000',clip:false,order:2}));
 ds.push({type:'scatter',data:dx.map((x,i)=>({x,y:dy[i]})),pointRadius:5,pointBackgroundColor:'#000',pointBorderWidth:0,clip:false,order:1});
 brackets.forEach(b=>ds.push({type:'line',data:[{x:b[0],y:b[3]},{x:b[0],y:b[2]},{x:b[1],y:b[2]},{x:b[1],y:b[3]}],borderColor:'#111',borderWidth:3.2,pointRadius:0,clip:false,order:1}));
 const gx={display:true,offset:false,drawOnChartArea:false,drawTicks:true,tickLength:6,tickWidth:3,tickColor:'#000'};
 const gy={display:true,drawOnChartArea:false,drawTicks:true,tickLength:7,tickWidth:3,tickColor:'#000'};
 place(box[0],box[1],box[2],box[3],{l:ml,t:60,r:6,b:12},{type:'bar',data:{datasets:ds},options:{scales:{
  x:{type:'linear',offset:false,min:xr[0],max:xr[1],afterBuildTicks:setTicks(mean.map((v,i)=>i)),ticks:{callback:()=>'',font:{size:1}},grid:gx,border:{display:true,color:'#000',width:4}},
  y:{type:'linear',min:0,max:yMax,afterBuildTicks:setTicks(yT),ticks:{font:{size:35},padding:1,labelOffset:3,autoSkip:false},grid:gy,border:{display:true,color:'#000',width:3.5}}
 }}});
}
const colAB=['#552d8e','#a994c4'], colCDE=['#8f1a1c','#c78b8d','#7a7a7a'];
barPanel([915,123.4,1014,294.6],[-.674,1.628],31,a1TMean,a1THi,a1TLo,a1TDotX,a1TDotY,colAB,yTicks400,400,[[0,1.02,388,367]],90);
barPanel([1200.5,123,1299.5,291.8],[-.672,1.696],31,a2TMean,a2THi,a2TLo,a2TDotX,a2TDotY,colAB,yTicks400,400,[[.05,1.1,424,400]],90);
barPanel([1471,123,1571,291.4],[-.69,1.654],31,a3TMean,a3THi,a3TLo,a3TDotX,a3TDotY,colAB,yTicks500,500,[[.02,1.03,544,515]],90);
barPanel([915,364.7,1037,550],[-.645,2.634],26,a1BMean,a1BHi,a1BLo,a1BDotX,a1BDotY,colCDE,yTicks300,300,[[.04,2.07,319,305],[-.03,1,274,259],[1,2.02,185,168]],90);
barPanel([1195.4,364,1320,548],[-.72,2.65],26,a2BMean,a2BHi,a2BLo,a2BDotX,a2BDotY,colCDE,yTicks400,400,[[0,2.13,427,409],[0,1,367,348],[1.1,2,280,256.5]],90);
barPanel([1471,364,1600,549],[-.643,2.815],26,a3BMean,a3BHi,a3BLo,a3BDotX,a3BDotY,colCDE,yTicks600,600,[[.16,2.15,649,616],[.16,1.1,533,503],[1.4,2.35,366,337]],90);
Rot(794,199,'MFI',38);Rot(794,440,'MFI',38);
T(970.5,54.5,'NR4A1',38,{a:'c'});T(1248.5,54.5,'NR4A2',38,{a:'c'});T(1521,54.5,'NR4A3',38,{a:'c'});
Star(965.5,113,'*');Star(1252.5,97,'**');Star(1521,93,'**');
Star(957,370,'*');Star(1260,340,'*');Star(1240,368,'*');Star(1280,404,'*');Star(1534,340,'*');Star(1514,374,'*');
T(997.5,335,'<i>P</i> = 0.0616',33,{a:'c'});T(962,419,'<i>P</i> = 0.4441',33);T(1517,417,'<i>P</i> = 0.1389',33);
// legend
[[1662,77,1704,101,'#552d8e',1717,88,'CAR PD-1<sup>hi</sup> TIM3<sup>hi</sup> TILs (A)',31.5],
 [1662,135,1704,159,'#a994c4',1717,145,'CAR PD-1<sup>hi</sup>TIM3<sup>lo</sup> TILs (B)',31.5],
 [1658,192,1701,217,'#8f1a1c',1716,203,'Endogenous PD-1<sup>hi</sup>TIM3<sup>hi</sup> TILs (C)',31.8],
 [1658,243,1701,267,'#c78b8d',1716,255,'Endogenous PD-1<sup>hi</sup>TIM3<sup>lo</sup> TILs (D)',31.8],
 [1658,294,1701,318,'#7a7a7a',1716,306,'Endogenous PD-1<sup>lo</sup>TIM3<sup>lo</sup>&nbsp; TILs (E)',31.7]
].forEach(r=>{Box(r[0],r[1],r[2],r[3],`background:${r[4]};border:2.5px solid #111`);T(r[5],r[6],r[7],r[8]);});

// ---------- heat maps ----------
function heat(L,Tp,R,B,rows,pal,topLabels,mt){
 const mb=44, nR=rows.length;
 const c=mkCanvas(L-4,Tp-mt,R-L+8,B-Tp+mt+mb);
 const datasets=rows.map(r=>{const cols=r.map(v=>lerpPal(pal,(v+2)/4));return{data:r.map(()=>1),backgroundColor:cols,borderColor:cols,borderWidth:.6,barPercentage:1,categoryPercentage:1};});
 const zero=s=>{s.paddingLeft=0;s.paddingRight=0;};
 const scales={
  x:{type:'category',stacked:true,labels:colsB,grid:{display:false,drawTicks:false},border:{display:false},ticks:{font:{size:32},padding:2,autoSkip:false,maxRotation:0},afterFit:s=>{s.height=mb;zero(s);}},
  y:{type:'linear',min:0,max:nR,reverse:true,stacked:true,display:false}
 };
 if(topLabels) scales.x2={type:'category',offset:true,position:'top',labels:topLabels,grid:{display:false,drawTicks:false},border:{display:false},ticks:{font:{size:32},padding:7,labelOffset:39,autoSkip:false,minRotation:90,maxRotation:90},afterFit:s=>{s.height=mt;zero(s);}};
 new Chart(c,{type:'bar',data:{labels:colsB,datasets},plugins:[framePlugin],options:{responsive:false,animation:false,events:[],
  layout:{autoPadding:false,padding:{left:4,right:4,top:topLabels?0:mt}},
  plugins:{legend:{display:false},tooltip:{enabled:false},frame:{color:'#000',width:4}},scales}});
}
function grad(pal){return 'linear-gradient(to top,'+pal.join(',')+')';}
function colorbar(l,t,r,b,pal,yP,yM,cx){Box(l,t,r,b,`background:${grad(pal)};border:4px solid #000`);T(cx,yP,'+2',33,{a:'c'});T(cx,yM,'−2',33,{a:'c'});}
// b
heat(221,748.6,536,1132,mouseAtac,RDBU,countsMouse,125);
heat(223,1167.7,537,1550.7,mouseMotif,PUOR,null,6);
T(572.7,615,'Mouse CD8<sup>+</sup> T cell ATAC-seq',39.5,{a:'c'});
Box(224,643,926,647,'background:#000');
T(599,683,'32,394 differentially',33);T(599,725,'accessible regions',33);
colorbar(165,863,202,1027,RDBU,841,1053,179);
colorbar(165,1283,202,1447,PUOR,1263,1478,179);
Rot(45.5,951,'ATAC-seq signal',34);Rot(88,951,'log<sub>2</sub>(signal in',34);Rot(127,951,'sample vs mean)',34);
Rot(45,1366,'Known motif enrichment',34);Rot(88,1366,'log<sub>2</sub>(frequency in cluster',34);Rot(127,1367,'vs all peaks)',34);
const PD=(a,b)=>`PD-1<sup>${a}</sup>TIM3<sup>${b}</sup>`;
const rowsB=['Naive','Endo '+PD('lo','lo'),'Endo '+PD('hi','lo'),'CAR '+PD('hi','lo'),'Endo '+PD('hi','hi'),'OT-I '+PD('hi','hi'),'CAR '+PD('hi','hi')];
const rowsBy=[770,809,848,886,925,963,1002];
rowsB.forEach((s,i)=>T(545,rowsBy[i],s,33));
T(551,1040,'Effector',33);T(551,1074,'Memory',33);T(545,1117,PD('hi','hi')+' (LCMV Cl13)',32.5);
Box(839.5,790,842.5,1014,'background:#000');Box(842,900.5,849,903.5,'background:#000');T(856,902,'(TIL)',33);
Box(685.5,1028,688.5,1092,'background:#000');Box(688,1058.5,695,1061.5,'background:#000');T(703,1060,'(LCMV arm)',33);
const motifB=['bZIP (AP-1)','ETS (Ets1-distal)','HMG (TCF7)','IRF:bZIP (IRF:BATF)','IRF (IRF4)','NR (NUR77)','RHD,bZIP (NFAT:AP1)','RHD (NFAT)','RHD (NFkB-p65)','T-box (TBET)','Zf (Klf4)'];
motifB.forEach((s,i)=>T(545,1186+i*34.8,s,35.5));
// e
heat(1128,752,1442,1135.4,humanAtac,RDBU,countsHuman,125);
heat(1128,1170.7,1442,1554.3,humanMotif,PUOR,null,6);
T(1474,615,'Human CD8<sup>+</sup> T cell ATAC-seq',39.5,{a:'c'});
Box(1124,643.5,1798,647.5,'background:#000');
T(1624,683,'15,986 differentially',33,{a:'c'});T(1628,723,'accessible regions',33,{a:'c'});
colorbar(1073,846,1112,1010,RDBU,824,1037,1091);
colorbar(1073,1267,1112,1430,PUOR,1243,1455,1091);
Rot(959,951,'ATAC-seq signal',34);Rot(999,951,'log<sub>2</sub>(signal in',34);Rot(1039,951,'sample vs mean)',34);
Rot(959,1365,'Known motif enrichment',34);Rot(999,1365,'log<sub>2</sub>(frequency in cluster',34);Rot(1039,1365,'vs all peaks)',34);
[[752,858,807],[866,910,885.5],[911.5,929,920],[931,1037,966],[1040,1086,1047.5],[1089.5,1133.5,1110]].forEach(r=>{Box(1450,r[0],1453,r[1],'background:#000');Box(1452,r[2]-1.5,1460,r[2]+1.5,'background:#000');});
[[807.5,'Naive'],[887,'PD-1<sup>hi</sup> (TIL)'],[922,'Effector (virus)'],[967,'Effector memory'],[999,'(bulk)'],[1048,'Central memory'],[1076,'(bulk)'],[1112,'Exhausted'],[1143,'(HIV,chronic)']].forEach(r=>T(1465,r[0],r[1],33));
const motifE=['bZIP (AP-1)','ETS (Ets1-distal)','HMG (TCF7)','IRF:bZIP (IRF:BATF)','IRF (IRF4)','NR (NUR77)','RHD,bZIP (NFAT:AP1)','RHD (NFAT)','Runt (RUNX)','T-box (TBET)'];
motifE.forEach((s,i)=>T(1451,1190+i*38.4,s,33));

// ---------- panel d ----------
function dPanel(L,Tp,R,B,vals,vMin,vMax,opts){
 const cols=vals.map(v=>lerpPal(INFERNO,(v-vMin)/(vMax-vMin)));
 const g={display:true,drawOnChartArea:false,drawTicks:true,tickLength:5,tickWidth:1.5,tickColor:'#555'};
 place(L,Tp,R,B,{l:opts.ml,t:20,r:4,b:opts.mb},{type:'scatter',
  data:{datasets:[{data:pdcd1.map((x,i)=>({x,y:havcr2[i]})),pointRadius:3.7,pointBackgroundColor:cols,pointBorderWidth:0,clip:false}]},
  options:{plugins:{frame:{color:'#666',width:1.6}},scales:{
   x:{type:'linear',min:1.54,max:5.47,afterBuildTicks:setTicks(dXTicks),ticks:{font:{size:31},padding:6,callback:v=>opts.xLabels?v:''},grid:g,border:{display:false},
      title:opts.xTitle?{display:true,text:opts.xTitle,font:{size:38,style:'italic'},padding:0}:{display:false}},
   y:{type:'linear',min:1.54,max:6,afterBuildTicks:setTicks(dYTicks),ticks:{font:{size:31},padding:9,autoSkip:false},grid:g,border:{display:false},
      title:opts.yTitle?{display:true,text:opts.yTitle,font:{size:38,style:'italic'},padding:0}:{display:false}}
  }}});
}
dPanel(1901.7,376,2259,732.7,exprNR4A1,0,1.45,{ml:60,mb:8});
dPanel(1903.3,753.3,2260,1110,exprNR4A2,1.2,3.6,{ml:92,mb:8,yTitle:'HAVCR2'});
dPanel(1904,1127.3,2261,1485,exprNR4A3,0,1.05,{ml:60,mb:108,xLabels:true,xTitle:'PDCD1'});
T(1913,407,'NR4A1',38,{i:1});T(1923,782,'NR4A2',38,{i:1});T(1923,1159,'NR4A3',38,{i:1});
const cbP='linear-gradient(to bottom,'+INFERNO.slice().reverse().join(',')+')';
const dBars=[[2218.7,617.7,2250,715.7],[2217,966.7,2248.7,1095],[2215.7,1343,2246.7,1467]];
dBars.forEach(b=>Box(b[0],b[1],b[2],b[3],`background:${cbP}`));
[[0,633],[0,665],[0,697],[1,989],[1,1015],[1,1042],[1,1069],[2,1382],[2,1412],[2,1442]].forEach(r=>{const b=dBars[r[0]];Box(b[0],r[1],b[0]+5,r[1]+1.2,'background:rgba(255,255,255,.6)');Box(b[2]-5,r[1],b[2],r[1]+1.2,'background:rgba(255,255,255,.6)');});
[[618,'1.5'],[648,'1.0'],[680,'0.5'],[710,'0'],[975,'3.5'],[1001,'3.0'],[1028,'2.5'],[1055,'2.0'],[1081,'1.5'],[1352,'1.00'],[1383,'0.75'],[1413,'0.50'],[1443,'0.25']].forEach(r=>T(2208,r[0],r[1],26,{a:'r'}));
</script></body></html>
